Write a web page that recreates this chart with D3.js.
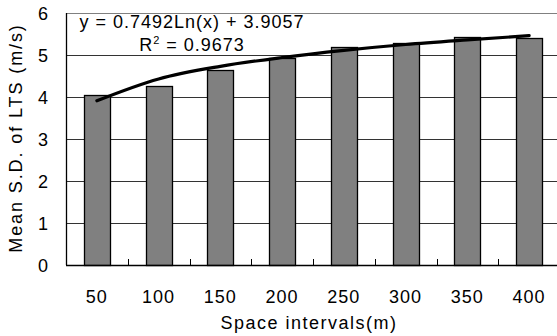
<!DOCTYPE html>
<head>
<meta charset="utf-8">
<script src="https://cdn.jsdelivr.net/npm/d3@7"></script>
<style>
  body { margin: 0; background: #fff; }
  text { font-family: "Liberation Sans", Arial, sans-serif; fill: #000; font-size: 18px; letter-spacing: 1px; }
</style>
</head>
<body>
<svg id="chart" width="557" height="336"></svg>
<script>
var categories = ['50', '100', '150', '200', '250', '300', '350', '400']
var meanSD = [4.05, 4.27, 4.64, 4.94, 5.20, 5.28, 5.44, 5.41]
// log trendline as drawn (read at each category)
var trend = [3.91, 4.43, 4.73, 4.94, 5.11, 5.25, 5.36, 5.46]
var yTicks = [0, 1, 2, 3, 4, 5, 6]
var equation = 'y = 0.7492Ln(x) + 3.9057'
var rSquared = '0.9673'

var svg = d3.select('#chart')
  , pLeft = 66, pRight = 560, pTop = 13, pBottom = 265

var x = d3.scaleBand().domain(categories).range([pLeft, pRight])
          .paddingInner(0.58).paddingOuter(0.29)
var y = d3.scaleLinear().domain([0, 6]).range([pBottom, pTop])

// gridlines
svg.append('g').selectAll('line').data(yTicks.slice(1, 6)).enter().append('line')
  .attr('x1', pLeft).attr('x2', pRight)
  .attr('y1', function (d) { return Math.round(y(d)) + 0.5 })
  .attr('y2', function (d) { return Math.round(y(d)) + 0.5 })
  .attr('stroke', '#333').attr('stroke-width', 1)

// plot area top border
svg.append('line').attr('x1', pLeft).attr('x2', pRight)
  .attr('y1', Math.round(y(6)) + 0.5).attr('y2', Math.round(y(6)) + 0.5)
  .attr('stroke', '#808080')

// bars
svg.append('g').selectAll('rect').data(meanSD).enter().append('rect')
  .attr('x', function (d, i) { return Math.round(x(categories[i])) + 0.5 })
  .attr('width', Math.round(x.bandwidth()))
  .attr('y', function (d) { return Math.round(y(d)) + 0.5 })
  .attr('height', function (d) { return Math.round(pBottom - y(d)) })
  .attr('fill', '#808080').attr('stroke', '#000').attr('stroke-width', 1.3)

// axes
svg.append('line').attr('x1', pLeft + 0.5).attr('x2', pLeft + 0.5)
  .attr('y1', pTop).attr('y2', pBottom).attr('stroke', '#000').attr('stroke-width', 1.3)
svg.append('line').attr('x1', pLeft).attr('x2', pRight)
  .attr('y1', pBottom + 0.5).attr('y2', pBottom + 0.5).attr('stroke', '#000').attr('stroke-width', 1.3)

// inward tick marks between categories
svg.append('g').selectAll('line').data(categories.slice(1)).enter().append('line')
  .attr('x1', function (d) { return Math.round(x(d) - x.step() * x.paddingInner() / 2) + 0.5 })
  .attr('x2', function (d) { return Math.round(x(d) - x.step() * x.paddingInner() / 2) + 0.5 })
  .attr('y1', pBottom).attr('y2', pBottom - 6)
  .attr('stroke', '#000')

// trend line
var line = d3.line()
  .x(function (d, i) { return x(categories[i]) + x.bandwidth() / 2 })
  .y(function (d) { return y(d) })
  .curve(d3.curveMonotoneX)
svg.append('path').datum(trend).attr('d', line)
  .attr('fill', 'none').attr('stroke', '#000').attr('stroke-width', 3.2)
  .attr('stroke-linecap', 'round')

// tick labels
svg.append('g').selectAll('text').data(yTicks).enter().append('text')
  .attr('x', 49).attr('y', function (d) { return y(d) + 7 })
  .attr('text-anchor', 'end')
  .text(function (d) { return d })

svg.append('g').selectAll('text').data(categories).enter().append('text')
  .attr('x', function (d) { return x(d) + x.bandwidth() / 2 })
  .attr('y', 303).attr('text-anchor', 'middle')
  .text(function (d) { return d })

// axis titles
svg.append('text').attr('x', 309).attr('y', 329).attr('text-anchor', 'middle')
  .style('letter-spacing', '1.5px').text('Space intervals(m)')
svg.append('text').attr('transform', 'translate(22,138) rotate(-90)')
  .attr('text-anchor', 'middle').style('letter-spacing', '1.9px')
  .text('Mean S.D. of LTS (m/s)')

// trendline label
svg.append('text').attr('x', 192).attr('y', 28).attr('text-anchor', 'middle')
  .text(equation)
var r2 = svg.append('text').attr('x', 192).attr('y', 51).attr('text-anchor', 'middle')
r2.append('tspan').text('R')
r2.append('tspan').attr('dy', -7).style('font-size', '11px').text('2')
r2.append('tspan').attr('dy', 7).text(' = ' + rSquared)
</script>
</body>
